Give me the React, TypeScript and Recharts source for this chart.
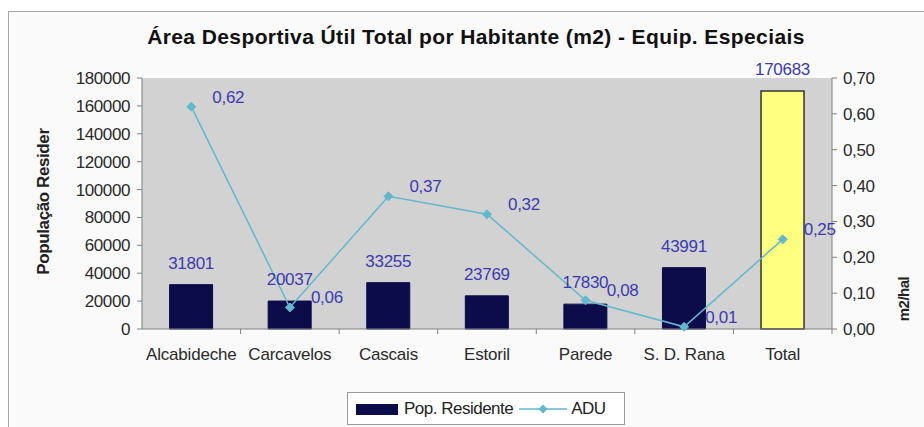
import React from 'react';
import {
  ComposedChart, Bar, Line, XAxis, YAxis, CartesianGrid, Legend, LabelList, Cell,
} from 'recharts';

const categories = ['Alcabideche', 'Carcavelos', 'Cascais', 'Estoril', 'Parede', 'S. D. Rana', 'Total'];
const popResidente = [31801, 20037, 33255, 23769, 17830, 43991, 170683];
const adu = [0.62, 0.06, 0.37, 0.32, 0.08, 0.006, 0.25];
const leftTicks = [0, 20000, 40000, 60000, 80000, 100000, 120000, 140000, 160000, 180000];
const rightTicks = [0, 0.1, 0.2, 0.3, 0.4, 0.5, 0.6, 0.7];

const data = categories.map((c, i) => ({ name: c, pop: popResidente[i], adu: adu[i] }));

const FONT = '"Liberation Sans", Arial, sans-serif';
const W = 924;
const H = 427;
const PLOT_LEFT = 142;
const PLOT_RIGHT = 832;
const HALF_BAND = (PLOT_RIGHT - PLOT_LEFT) / categories.length / 2;
const LABEL_COLOR = '#3b3bb0';
const LINE_COLOR = '#62b8cc';
const TEXT_COLOR = '#2a2a2a';

const fmtComma = (v: number) => v.toFixed(2).replace('.', ',');

const XTick = (props: any) => {
  const { x, y, payload } = props;
  return (
    <g>
      <line x1={x + HALF_BAND} x2={x + HALF_BAND} y1={y - 8} y2={y - 3} stroke="#808080" />
      <text x={x} y={y + 23} textAnchor="middle" fontSize={17} fill={TEXT_COLOR} fontFamily={FONT} letterSpacing={-0.2}>
        {payload.value}
      </text>
    </g>
  );
};

const Diamond = (props: any) => {
  const { cx, cy } = props;
  if (cx == null || cy == null) return null;
  const s = 4.5;
  return <path d={`M${cx},${cy - s}L${cx + s},${cy}L${cx},${cy + s}L${cx - s},${cy}Z`} fill={LINE_COLOR} stroke={LINE_COLOR} />;
};

const LineLabel = (props: any) => {
  const { x, y, value } = props;
  return (
    <text x={x + 37} y={y - 4} textAnchor="middle" fontSize={17} fill={LABEL_COLOR} fontFamily={FONT} letterSpacing={-0.3}>
      {fmtComma(value)}
    </text>
  );
};

const BarLabel = (props: any) => {
  const { x, y, width, value } = props;
  return (
    <text x={x + width / 2} y={y - 16} textAnchor="middle" fontSize={17} fill={LABEL_COLOR} fontFamily={FONT} letterSpacing={-0.3}>
      {value}
    </text>
  );
};

const LegendContent = () => (
  <div
    style={{
      boxSizing: 'border-box', height: 33, width: 278, border: '1px solid #9a9a9a', background: '#ffffff',
      display: 'flex', alignItems: 'center', fontFamily: FONT, fontSize: 17, color: '#222', letterSpacing: -0.5,
      whiteSpace: 'nowrap', overflow: 'hidden',
    }}
  >
    <svg width={50} height={20} style={{ marginLeft: 6, flex: 'none' }}>
      <rect x={2} y={5} width={42} height={11} fill="#0c0c4a" />
    </svg>
    <span style={{ marginLeft: 0 }}>Pop. Residente</span>
    <svg width={52} height={20} style={{ marginLeft: 4, flex: 'none' }}>
      <line x1={2} x2={50} y1={10} y2={10} stroke={LINE_COLOR} strokeWidth={1.5} />
      <path d="M26,5.5L30.5,10L26,14.5L21.5,10Z" fill={LINE_COLOR} />
    </svg>
    <span style={{ marginLeft: 2 }}>ADU</span>
  </div>
);

export default function App() {
  return (
    <div style={{ position: 'absolute', left: 0, top: 0, width: W, height: H, background: '#ffffff', overflow: 'hidden' }}>
      <div style={{ position: 'absolute', left: 8, top: 11, width: W, height: H, border: '1px solid #a8a8a8', background: '#fafafa' }} />
      <div style={{ position: 'absolute', left: 0, top: 0 }}>
        <ComposedChart width={W} height={H} data={data} margin={{ top: 78, right: 0, bottom: 35, left: 0 }} barCategoryGap="28%">
          <CartesianGrid horizontal={false} vertical={false} fill="#d2d2d2" stroke="none" />
          <XAxis
            dataKey="name"
            xAxisId={0}
            height={30}
            stroke="#808080"
            tickLine={false}
            tick={<XTick />}
            interval={0}
          />
          <YAxis
            yAxisId="left"
            orientation="left"
            width={142}
            domain={[0, 180000]}
            ticks={leftTicks}
            interval={0}
            stroke="#808080"
            tickSize={5}
            tick={{ fontSize: 17, fill: TEXT_COLOR, fontFamily: FONT, letterSpacing: -0.4, dx: -5 }}
            label={(p: any) => {
              const vb = p.viewBox;
              const cx = vb.x + 43;
              const cy = vb.y + vb.height / 2 - 2;
              return (
                <text x={cx} y={cy} transform={`rotate(-90 ${cx} ${cy})`} textAnchor="middle" dominantBaseline="central"
                  fontSize={17} fontWeight="bold" fill="#222" fontFamily={FONT} letterSpacing={-0.4}>
                  População Resider
                </text>
              );
            }}
          />
          <YAxis
            yAxisId="right"
            orientation="right"
            width={92}
            domain={[0, 0.7]}
            ticks={rightTicks}
            interval={0}
            stroke="#808080"
            tickSize={5}
            tickFormatter={fmtComma}
            tick={{ fontSize: 17, fill: TEXT_COLOR, fontFamily: FONT, letterSpacing: -0.4, dx: 4 }}
            label={(p: any) => {
              const vb = p.viewBox;
              const cx = vb.x + 71;
              const cy = 299;
              return (
                <text x={cx} y={cy} transform={`rotate(-90 ${cx} ${cy})`} textAnchor="middle" dominantBaseline="central"
                  fontSize={15} fontWeight="bold" fill="#222" fontFamily={FONT} letterSpacing={-0.5}>
                  m2/hal
                </text>
              );
            }}
          />
          <Legend verticalAlign="bottom" content={<LegendContent />} wrapperStyle={{ left: 347, bottom: 2, width: 278, height: 33 }} />
          <Bar yAxisId="left" dataKey="pop" name="Pop. Residente" fill="#0c0c4a" stroke="#1a1a1a" isAnimationActive={false}>
            {data.map((d, i) => (
              <Cell key={d.name} fill={i === data.length - 1 ? '#ffff80' : '#0c0c4a'} stroke={i === data.length - 1 ? '#333' : '#0c0c4a'} strokeWidth={i === data.length - 1 ? 1.5 : 1} />
            ))}
            <LabelList dataKey="pop" content={<BarLabel />} />
          </Bar>
          <Line yAxisId="right" dataKey="adu" name="ADU" type="linear" stroke={LINE_COLOR} strokeWidth={1.5} dot={<Diamond />} activeDot={false} isAnimationActive={false}>
            <LabelList dataKey="adu" content={<LineLabel />} />
          </Line>
        </ComposedChart>
      </div>
      <div style={{ position: 'absolute', left: 0, width: 952, top: 25, textAlign: 'center', fontFamily: FONT, fontSize: 21, fontWeight: 'bold', color: '#111', letterSpacing: 0.4 }}>
        Área Desportiva Útil Total por Habitante (m2) - Equip. Especiais
      </div>
    </div>
  );
}
